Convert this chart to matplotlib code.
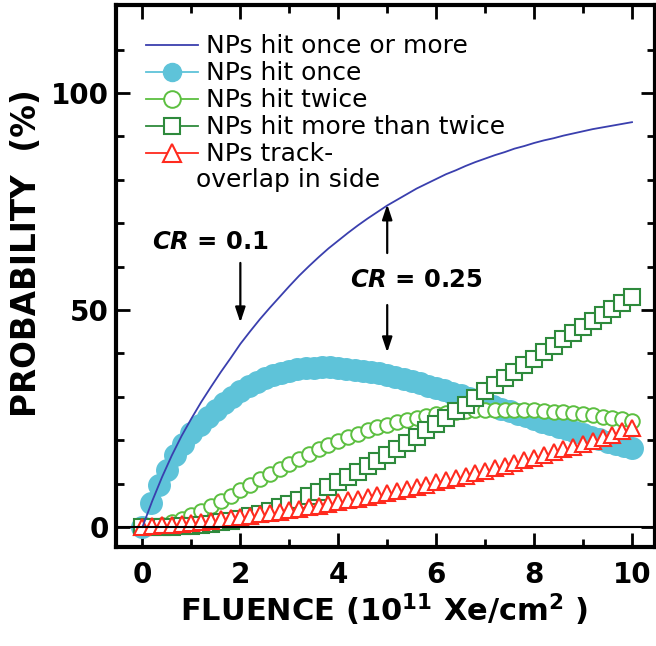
import numpy as np
import matplotlib
matplotlib.use("Agg")
import matplotlib.pyplot as plt
from matplotlib.lines import Line2D
from matplotlib.ticker import FixedLocator

plt.rcParams['font.family'] = ['DejaVu Sans']
plt.rcParams['mathtext.fontset'] = 'custom'
plt.rcParams['mathtext.rm'] = 'DejaVu Sans:bold'
plt.rcParams['mathtext.it'] = 'DejaVu Sans:italic:bold'
plt.rcParams['mathtext.bf'] = 'DejaVu Sans:bold'

# ---- data ----
fluence = np.round(np.arange(0, 10.001, 0.2), 2)          # 51 points
fluence_once = np.round(np.arange(0, 61) / 6.0, 4)         # 61 points

hit_once_or_more = [0, 6.0, 11.5, 16.5, 21.0, 25.0, 28.8, 32.3, 35.7, 38.9,
                    42.2, 45.1, 47.9, 50.5, 53.0, 55.5, 57.9, 60.1, 62.2, 64.2,
                    66.0, 67.8, 69.5, 71.1, 72.6, 74.1, 75.4, 76.7, 78.0, 79.1,
                    80.2, 81.3, 82.2, 83.2, 84.1, 84.9, 85.7, 86.4, 87.2, 87.8,
                    88.5, 89.1, 89.6, 90.2, 90.7, 91.2, 91.7, 92.1, 92.5, 92.9, 93.3]

hit_once = [0, 5.6, 9.8, 13.2, 16.5, 19.2, 21.6, 23.6, 25.4, 27.0,
            28.6, 30.0, 31.3, 32.5, 33.5, 34.4, 35.05, 35.6, 36.0, 36.4,
            36.6, 36.7, 36.8, 36.8, 36.7, 36.5, 36.3, 36.05, 35.7, 35.4,
            35.0, 34.6, 34.1, 33.6, 33.1, 32.6, 32.1, 31.5, 30.9, 30.35,
            29.75, 29.2, 28.55, 27.95, 27.3, 26.7, 26.1, 25.5, 24.9, 24.3,
            23.7, 23.1, 22.5, 21.95, 21.4, 20.8, 20.3, 19.7, 19.2, 18.7, 18.15]

hit_twice = [0, 0.14, 0.52, 1.12, 1.88, 2.78, 3.80, 4.90, 6.06, 7.26,
             8.50, 9.74, 10.98, 12.21, 13.42, 14.59, 15.73, 16.83, 17.87, 18.87,
             19.81, 20.69, 21.51, 22.28, 22.98, 23.62, 24.21, 24.73, 25.20, 25.61,
             25.97, 26.27, 26.52, 26.72, 26.88, 26.98, 27.05, 27.07, 27.05, 27.00,
             26.90, 26.78, 26.62, 26.44, 26.23, 25.99, 25.73, 25.45, 25.15, 24.83, 24.50]

hit_more = [0, 0.0, 0.02, 0.07, 0.16, 0.30, 0.49, 0.75, 1.08, 1.47,
            1.94, 2.47, 3.08, 3.76, 4.51, 5.34, 6.22, 7.17, 8.18, 9.24,
            10.36, 11.53, 12.75, 14.01, 15.31, 16.65, 18.02, 19.42, 20.84, 22.29,
            23.75, 25.23, 26.72, 28.23, 29.74, 31.25, 32.76, 34.28, 35.80, 37.30,
            38.80, 40.29, 41.77, 43.24, 44.69, 46.13, 47.55, 48.96, 50.34, 51.71, 53.06]

track_overlap = [0, 0.18, 0.37, 0.57, 0.78, 1.01, 1.24, 1.49, 1.75, 2.02,
                 2.30, 2.59, 2.89, 3.21, 3.53, 3.87, 4.22, 4.58, 4.95, 5.33,
                 5.72, 6.13, 6.54, 6.97, 7.41, 7.86, 8.32, 8.79, 9.28, 9.77,
                 10.28, 10.80, 11.32, 11.86, 12.42, 12.98, 13.55, 14.14, 14.73, 15.34,
                 15.96, 16.59, 17.23, 17.88, 18.55, 19.22, 19.91, 20.61, 21.32, 22.04, 22.77]

labels = ["NPs hit once or more", "NPs hit once", "NPs hit twice",
          "NPs hit more than twice", "NPs track-"]
label_cont = "overlap in side"

c_blue = '#3a3fae'
c_cyan = '#5ec3d9'
c_lgreen = '#5cbf40'
c_dgreen = '#2e8a3c'
c_red = '#ff2a1e'

fig = plt.figure(figsize=(6.56, 6.46), dpi=100)
ax = fig.add_axes([116/656, 1-547/646, (655-116)/656, (547-5)/646])

ax.plot(fluence_once, hit_once, 'o', color=c_cyan, ms=15.5, mec=c_cyan, zorder=2)
ax.plot(fluence, hit_twice, 'o', color=c_lgreen, ms=10.5, mfc='white', mec=c_lgreen, mew=1.4, zorder=3)
ax.plot(fluence, hit_more, 's', color=c_dgreen, ms=11, mfc='white', mec=c_dgreen, mew=1.5, zorder=4)
ax.plot(fluence, track_overlap, '^', color=c_red, ms=11.5, mfc='white', mec=c_red, mew=1.5, zorder=5)
ax.plot(fluence, hit_once_or_more, '-', color=c_blue, lw=1.3, zorder=6)
ax.axhline(0, color='black', lw=1.5, zorder=7)

ax.set_xlim(-0.54, 10.47)
ax.set_ylim(-4.6, 120.3)

ax.xaxis.set_major_locator(FixedLocator([0, 2, 4, 6, 8, 10]))
ax.xaxis.set_minor_locator(FixedLocator([1, 3, 5, 7, 9]))
ax.yaxis.set_major_locator(FixedLocator([0, 50, 100]))
ax.yaxis.set_minor_locator(FixedLocator([10, 20, 30, 40, 60, 70, 80, 90, 110]))
ax.tick_params(which='both', direction='in', top=True, right=True, width=2)
ax.tick_params(which='major', length=10, labelsize=20, pad=10)
ax.tick_params(which='minor', length=6)
ax.tick_params(axis='y', which='major', pad=5)
for lab in ax.get_xticklabels() + ax.get_yticklabels():
    lab.set_fontweight('bold')
for sp in ax.spines.values():
    sp.set_linewidth(3)

handles = [
    Line2D([], [], color=c_blue, lw=1.3),
    Line2D([], [], color=c_cyan, marker='o', ms=13, lw=1.3),
    Line2D([], [], color=c_lgreen, marker='o', ms=12, mfc='white', mew=1.4, lw=1.3),
    Line2D([], [], color=c_dgreen, marker='s', ms=12, mfc='white', mew=1.5, lw=1.3),
    Line2D([], [], color=c_red, marker='^', ms=13, mfc='white', mew=1.5, lw=1.3),
]
leg = ax.legend(handles, labels, loc='upper left', bbox_to_anchor=(0.055, 0.946),
                frameon=False, fontsize=18, handlelength=2.1, handletextpad=0.3,
                labelspacing=0.12, borderaxespad=0, borderpad=0)
ax.text(1.09, 80, label_cont, fontsize=18, va='center', ha='left')

# annotations
ax.text(0.19, 65.7, r'$CR$ = 0.1', fontsize=17.5, fontweight='bold', va='center', ha='left')
ax.text(4.24, 56.9, r'$CR$ = 0.25', fontsize=17.5, fontweight='bold', va='center', ha='left')
arrow_kw = dict(arrowstyle='-|>,head_width=0.3,head_length=0.9', color='black', lw=1.6)
ax.annotate('', xy=(2.0, 46.5), xytext=(2.0, 61.5), arrowprops=arrow_kw)
ax.annotate('', xy=(5.0, 75.0), xytext=(5.0, 62.5), arrowprops=arrow_kw)
ax.annotate('', xy=(5.0, 39.6), xytext=(5.0, 51.8), arrowprops=arrow_kw)

fig.text(384/656, 1-610/646, r'FLUENCE (10$^{11}$ Xe/cm$^{2}$ )', fontsize=22,
         fontweight='bold', ha='center', va='center')
fig.text(27/656, 1-253/646, 'PROBABILITY  (%)', fontsize=23.5, fontweight='bold',
         rotation=90, ha='center', va='center')

fig.savefig('out.png', dpi=100)
